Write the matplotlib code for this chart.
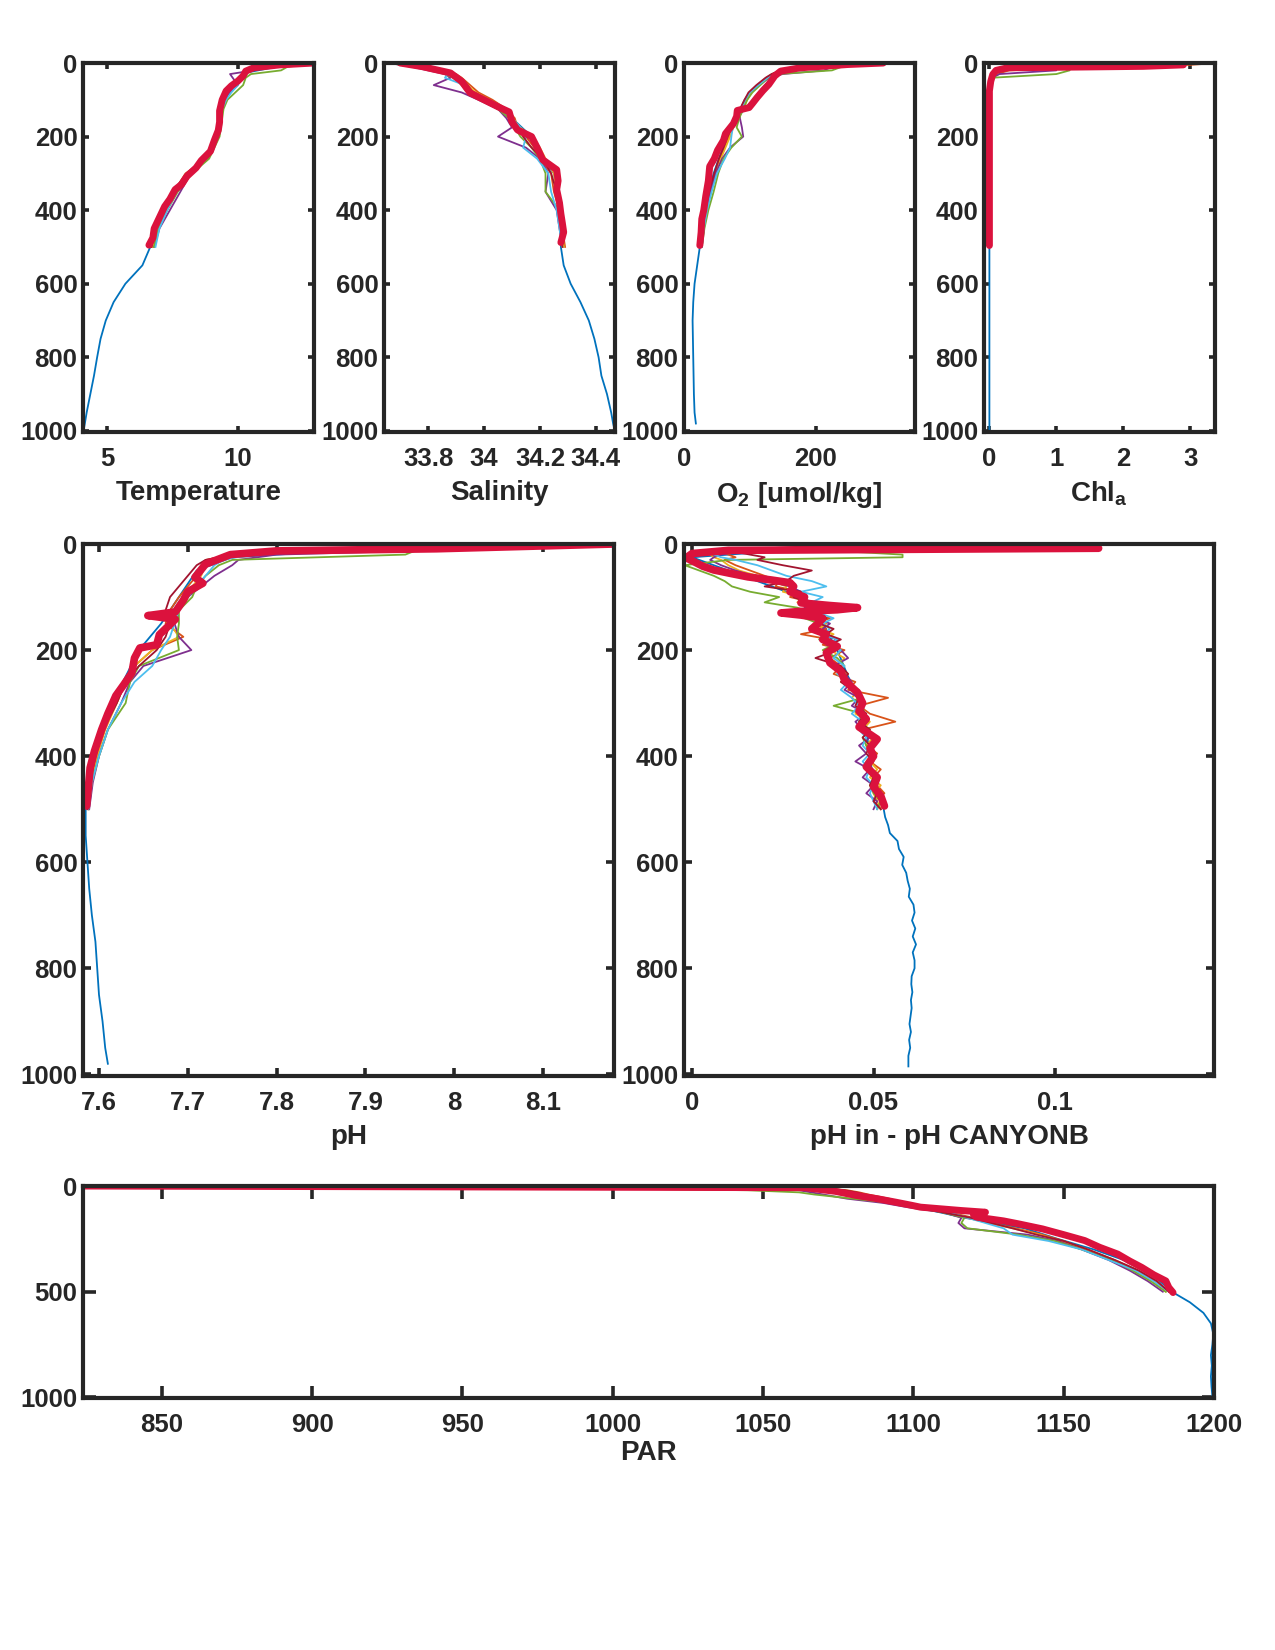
import matplotlib.pyplot as plt
import numpy as np

plt.rcParams["font.family"] = ["Liberation Sans", "DejaVu Sans"]
plt.rcParams["font.weight"] = "bold"
plt.rcParams["mathtext.fontset"] = "custom"
plt.rcParams["mathtext.rm"] = "Liberation Sans:bold"
plt.rcParams["mathtext.bf"] = "Liberation Sans:bold"

# depth grids (m)
deep_z = [0, 10, 25, 50, 100, 150, 200, 250, 300, 350, 400, 450, 500, 550,
          600, 650, 700, 750, 800, 850, 900, 950, 980, 1000]
float_z = [0, 5, 10, 20, 30, 40, 60, 80, 100, 125, 150, 175, 200, 230, 260,
           300, 350, 400, 450, 500]

# ---- Temperature
temp_deep = [12.8, 11.5, 10.4, 10.0, 9.4, 9.3, 9.2, 8.9, 8.1, 7.55, 7.15, 6.85,
             6.65, 6.35, 5.7, 5.25, 4.95, 4.75, 4.62, 4.5, 4.36, 4.22, 4.15, 4.1]
temp_floats = [
    [12.7, 11.8, 10.8, 10.4, 10.2, 10.1, 9.8, 9.6, 9.45, 9.35, 9.3, 9.2, 9.15, 9.0, 8.8, 8.0, 7.55, 7.2, 6.9, 6.7],
    [12.6, 12.0, 11.0, 10.5, 10.3, 10.1, 9.85, 9.6, 9.5, 9.4, 9.3, 9.25, 9.15, 9.0, 8.75, 8.1, 7.6, 7.25, 6.95, 6.75],
    [12.8, 12.2, 11.2, 10.6, 9.7, 9.8, 10.0, 9.7, 9.5, 9.4, 9.35, 9.25, 9.2, 9.05, 8.85, 8.2, 7.8, 7.4, 7.0, 6.8],
    [12.9, 12.5, 11.9, 11.65, 10.5, 10.3, 10.2, 9.9, 9.6, 9.45, 9.4, 9.35, 9.3, 9.1, 8.9, 8.25, 7.7, 7.3, 6.95, 6.8],
    [12.8, 12.0, 11.0, 10.5, 10.3, 10.15, 10.0, 9.75, 9.55, 9.4, 9.3, 9.25, 9.2, 9.0, 8.8, 8.15, 7.65, 7.3, 7.0, 6.85],
    [12.7, 11.5, 10.7, 10.4, 10.2, 10.05, 9.8, 9.6, 9.45, 9.35, 9.3, 9.2, 9.15, 8.95, 8.7, 8.05, 7.5, 7.15, 6.85, 6.7],
]
temp_red_z = [0, 5, 13, 22, 35, 49, 62, 76, 100, 130, 160, 183, 210, 240, 265,
              285, 308, 330, 344, 370, 390, 420, 450, 475, 495]
temp_red = [12.9, 11.6, 10.6, 10.3, 10.2, 10.0, 9.75, 9.55, 9.4, 9.3, 9.3, 9.25,
            9.1, 8.95, 8.6, 8.4, 8.05, 7.85, 7.6, 7.4, 7.2, 7.0, 6.8, 6.75, 6.6]

# ---- Salinity
sal_deep = [33.68, 33.78, 33.86, 33.91, 34.0, 34.10, 34.17, 34.2, 34.25, 34.26,
            34.27, 34.275, 34.275, 34.285, 34.31, 34.345, 34.375, 34.395, 34.41,
            34.42, 34.44, 34.455, 34.462, 34.468]
sal_floats = [
    [33.70, 33.75, 33.80, 33.86, 33.90, 33.92, 33.95, 33.98, 34.03, 34.08, 34.11, 34.12, 34.15, 34.18, 34.20, 34.24, 34.25, 34.27, 34.28, 34.29],
    [33.69, 33.74, 33.79, 33.85, 33.89, 33.91, 33.94, 33.97, 34.02, 34.08, 34.10, 34.13, 34.17, 34.2, 34.22, 34.25, 34.26, 34.27, 34.28, 34.285],
    [33.66, 33.70, 33.74, 33.80, 33.86, 33.88, 33.82, 33.92, 33.98, 34.05, 34.08, 34.10, 34.05, 34.15, 34.2, 34.23, 34.22, 34.26, 34.27, 34.28],
    [33.67, 33.70, 33.75, 33.82, 33.86, 33.89, 33.92, 33.94, 33.99, 34.05, 34.09, 34.11, 34.13, 34.17, 34.20, 34.22, 34.22, 34.27, 34.28, 34.28],
    [33.69, 33.73, 33.77, 33.83, 33.87, 33.86, 33.93, 33.96, 34.01, 34.06, 34.10, 34.13, 34.15, 34.14, 34.19, 34.23, 34.24, 34.26, 34.27, 34.28],
    [33.70, 33.75, 33.79, 33.84, 33.88, 33.90, 33.94, 33.96, 34.01, 34.07, 34.10, 34.12, 34.14, 34.17, 34.21, 34.24, 34.26, 34.27, 34.28, 34.28],
]
sal_red_z = [0, 10, 27, 50, 81, 100, 119, 133, 160, 182, 200, 230, 263, 290,
             320, 344, 380, 410, 434, 460, 488]
sal_red = [33.70, 33.78, 33.88, 33.92, 33.95, 34.0, 34.05, 34.09, 34.10, 34.12,
           34.17, 34.19, 34.21, 34.26, 34.265, 34.26, 34.27, 34.275, 34.28,
           34.285, 34.275]

# ---- Oxygen
o2_deep = [300, 200, 145, 128, 105, 80, 66, 55, 45, 38, 32, 28, 24, 20, 16, 14,
           13, 13.5, 14, 14.5, 15, 16, 18, np.nan]
o2_floats = [
    [300, 260, 200, 150, 135, 125, 112, 100, 95, 88, 80, 72, 68, 62, 55, 48, 40, 33, 29, 26],
    [295, 255, 190, 148, 134, 126, 114, 103, 96, 90, 82, 75, 70, 63, 56, 49, 41, 34, 30, 27],
    [290, 265, 225, 213, 150, 129, 115, 100, 92, 86, 85, 88, 90, 70, 58, 48, 40, 35, 30, 27],
    [305, 270, 240, 225, 141, 128, 116, 104, 96, 90, 84, 80, 88, 72, 60, 52, 45, 37, 31, 27],
    [300, 250, 185, 150, 136, 127, 113, 100, 93, 87, 80, 74, 72, 70, 62, 50, 42, 35, 30, 27],
    [298, 245, 180, 146, 133, 124, 110, 98, 92, 85, 78, 72, 66, 60, 53, 46, 38, 32, 28, 25],
]
o2_red_z = [0, 4, 13, 22, 35, 58, 75, 94, 110, 121, 129, 145, 165, 192, 210,
            237, 260, 281, 320, 362, 400, 424, 460, 496]
o2_red = [303, 249, 177, 147, 138, 129, 120, 111, 104, 99, 81, 80, 75, 63, 60,
          51, 46, 39, 37, 33, 30, 27, 26, 24]

# ---- Chlorophyll a
chl_deep = [0.5, 0.3, 0.1, 0.03, 0.01, 0.01, 0.0, 0.0, 0.0, 0.0, 0.0, 0.0, 0.0,
            0.0, 0.0, 0.0, 0.0, 0.0, 0.0, 0.0, 0.0, 0.0, 0.0, 0.0]
chl_floats = [
    [3.4, 3.0, 1.5, 0.3, 0.1, 0.05, 0.02, 0.01, 0.0, 0.0, 0.0, 0.0, 0.0, 0.0, 0.0, 0.0, 0.0, 0.0, 0.0, 0.0],
    [2.5, 2.0, 0.8, 0.2, 0.08, 0.04, 0.02, 0.01, 0.0, 0.0, 0.0, 0.0, 0.0, 0.0, 0.0, 0.0, 0.0, 0.0, 0.0, 0.0],
    [1.5, 1.2, 0.9, 1.0, 0.15, 0.05, 0.02, 0.01, 0.0, 0.0, 0.0, 0.0, 0.0, 0.0, 0.0, 0.0, 0.0, 0.0, 0.0, 0.0],
    [0.8, 0.9, 1.0, 1.2, 1.0, 0.04, 0.02, 0.01, 0.0, 0.0, 0.0, 0.0, 0.0, 0.0, 0.0, 0.0, 0.0, 0.0, 0.0, 0.0],
    [2.0, 1.5, 0.6, 0.15, 0.06, 0.03, 0.01, 0.01, 0.0, 0.0, 0.0, 0.0, 0.0, 0.0, 0.0, 0.0, 0.0, 0.0, 0.0, 0.0],
    [1.8, 1.4, 0.5, 0.12, 0.05, 0.03, 0.01, 0.01, 0.0, 0.0, 0.0, 0.0, 0.0, 0.0, 0.0, 0.0, 0.0, 0.0, 0.0, 0.0],
]
chl_red_z = [0, 5, 9, 13, 20, 31, 50, 76, 100, 200, 300, 400, 496]
chl_red = [2.9, 2.9, 2.3, 0.27, 0.1, 0.05, 0.02, 0.0, 0.0, 0.0, 0.0, 0.0, 0.0]

# ---- pH
ph_deep = [8.15, 7.9, 7.75, 7.71, 7.69, 7.67, 7.645, 7.63, 7.615, 7.605, 7.597,
           7.59, 7.585, 7.585, 7.587, 7.589, 7.592, 7.596, 7.598, 7.600, 7.604,
           7.607, 7.610, np.nan]
ph_floats = [
    [8.15, 8.0, 7.85, 7.75, 7.72, 7.715, 7.71, 7.70, 7.69, 7.68, 7.675, 7.695, 7.66, 7.64, 7.63, 7.62, 7.605, 7.597, 7.59, 7.588],
    [8.12, 7.95, 7.82, 7.76, 7.73, 7.72, 7.715, 7.705, 7.695, 7.69, 7.68, 7.69, 7.66, 7.64, 7.63, 7.62, 7.607, 7.598, 7.592, 7.588],
    [8.17, 8.05, 8.02, 7.80, 7.757, 7.75, 7.73, 7.715, 7.70, 7.69, 7.685, 7.69, 7.704, 7.65, 7.635, 7.625, 7.61, 7.60, 7.593, 7.589],
    [8.16, 8.0, 7.96, 7.945, 7.75, 7.735, 7.72, 7.71, 7.705, 7.69, 7.69, 7.688, 7.69, 7.645, 7.635, 7.63, 7.61, 7.60, 7.592, 7.588],
    [8.14, 7.97, 7.84, 7.77, 7.74, 7.73, 7.72, 7.71, 7.70, 7.69, 7.685, 7.68, 7.67, 7.66, 7.64, 7.625, 7.61, 7.60, 7.592, 7.588],
    [8.13, 7.96, 7.82, 7.75, 7.72, 7.71, 7.70, 7.69, 7.68, 7.675, 7.68, 7.675, 7.665, 7.645, 7.63, 7.62, 7.605, 7.596, 7.59, 7.587],
]
ph_red_z = [0, 9, 13, 20, 38, 63, 74, 90, 106, 128, 135, 142, 171, 190, 196,
            215, 243, 265, 286, 320, 350, 390, 422, 460, 494]
ph_red = [8.18, 7.98, 7.80, 7.748, 7.72, 7.708, 7.717, 7.70, 7.695, 7.686, 7.655,
          7.686, 7.668, 7.665, 7.646, 7.64, 7.637, 7.628, 7.619, 7.61, 7.603,
          7.595, 7.59, 7.588, 7.586]

# ---- pH in - pH CANYONB (noisier, so finer depth grids)
dph_deep_z = [0, 10, 25, 50, 100, 150, 200, 250, 300, 350, 400, 450, 500, 515,
              530, 545, 560, 575, 590, 605, 620, 635, 650, 665, 680, 695, 710,
              725, 740, 755, 770, 785, 800, 815, 830, 845, 860, 875, 890, 905,
              920, 935, 950, 965, 985]
dph_deep = [0.12, 0.03, 0.0, 0.01, 0.03, 0.036, 0.04, 0.043, 0.047, 0.048, 0.049,
            0.050, 0.0528, 0.0532, 0.0540, 0.0545, 0.0566, 0.0570, 0.0583, 0.0579,
            0.0590, 0.0594, 0.0600, 0.0597, 0.0610, 0.0613, 0.0606, 0.0615, 0.0608,
            0.0617, 0.0608, 0.0613, 0.0613, 0.0605, 0.0604, 0.0607, 0.0603, 0.0605,
            0.0602, 0.0599, 0.0603, 0.0598, 0.0601, 0.0596, 0.0596]
dph_float_z = [0, 5, 10, 15, 20, 25, 30, 40, 50, 60, 70, 80, 90, 100, 110, 120,
               130, 140, 150, 160, 170, 180, 190, 200, 215, 230, 245, 260, 275,
               290, 305, 320, 335, 350, 365, 380, 395, 410, 425, 440, 455, 470,
               485, 500]
dph_floats = [
    [0.14, 0.05, 0.012, 0.008, 0.010, 0.012, 0.009, 0.012, 0.016, 0.020,
     0.024, 0.023, 0.030, 0.027, 0.033, 0.035, 0.032, 0.038, 0.034, 0.037,
     0.030, 0.038, 0.036, 0.042, 0.038, 0.041, 0.039, 0.045, 0.043, 0.054,
     0.046, 0.049, 0.056, 0.047, 0.050, 0.048, 0.051, 0.049, 0.052, 0.050,
     0.051, 0.053, 0.050, 0.052],
    [0.09, 0.04, 0.010, 0.006, 0.005, 0.006, 0.008, 0.010, 0.013, 0.018,
     0.022, 0.026, 0.025, 0.031, 0.029, 0.034, 0.036, 0.033, 0.037, 0.035,
     0.039, 0.036, 0.040, 0.038, 0.042, 0.040, 0.043, 0.041, 0.046, 0.044,
     0.047, 0.045, 0.049, 0.047, 0.050, 0.048, 0.050, 0.049, 0.051, 0.049,
     0.052, 0.050, 0.051, 0.052],
    [0.06, 0.035, 0.020, 0.012, 0.008, 0.006, 0.005, 0.008, 0.012, 0.017,
     0.021, 0.027, 0.030, 0.028, 0.034, 0.031, 0.036, 0.034, 0.038, 0.036,
     0.035, 0.040, 0.037, 0.041, 0.043, 0.039, 0.042, 0.044, 0.042, 0.046,
     0.044, 0.048, 0.045, 0.047, 0.049, 0.046, 0.048, 0.045, 0.049, 0.047,
     0.050, 0.048, 0.051, 0.050],
    [0.05, 0.04, 0.03, 0.045, 0.058, 0.058, 0.01, -0.002, 0.002, 0.006,
     0.009, 0.011, 0.016, 0.024, 0.020, 0.029, 0.033, 0.031, 0.035, 0.033,
     0.037, 0.035, 0.039, 0.036, 0.040, 0.042, 0.040, 0.043, 0.045, 0.047,
     0.039, 0.047, 0.046, 0.049, 0.047, 0.048, 0.050, 0.048, 0.049, 0.051,
     0.049, 0.050, 0.052, 0.051],
    [0.10, 0.05, 0.015, 0.008, 0.006, 0.008, 0.012, 0.018, 0.022, 0.026,
     0.033, 0.037, 0.030, 0.036, 0.033, 0.038, 0.035, 0.039, 0.036, 0.038,
     0.036, 0.040, 0.038, 0.041, 0.039, 0.042, 0.040, 0.043, 0.041, 0.044,
     0.046, 0.044, 0.047, 0.046, 0.048, 0.047, 0.049, 0.047, 0.049, 0.048,
     0.050, 0.049, 0.050, 0.051],
    [0.09, 0.03, 0.015, 0.012, 0.016, 0.020, 0.018, 0.025, 0.033, 0.028,
     0.026, 0.020, 0.030, 0.028, 0.032, 0.036, 0.034, 0.037, 0.035, 0.039,
     0.037, 0.041, 0.038, 0.040, 0.034, 0.041, 0.043, 0.041, 0.044, 0.046,
     0.045, 0.048, 0.046, 0.049, 0.047, 0.049, 0.048, 0.050, 0.048, 0.050,
     0.049, 0.051, 0.050, 0.052],
]
dph_red_z = [0, 4, 8, 10, 12, 18, 26, 35, 42, 49, 56, 62, 68, 73, 80, 90, 100,
             111, 116, 120, 124, 127, 130, 134, 140, 148, 160, 170, 180, 193,
             205, 224, 240, 256, 270, 280, 300, 315, 330, 345, 368, 385, 400,
             420, 440, 458, 475, 494]
dph_red = [0.068, 0.11, 0.112, 0.06, 0.01, 0.0, -0.0016, 0.001, 0.003, 0.006,
           0.011, 0.0154, 0.022, 0.027, 0.028, 0.027, 0.031, 0.030, 0.038, 0.0456,
           0.04, 0.03, 0.0245, 0.03, 0.036, 0.035, 0.033, 0.037, 0.036, 0.040,
           0.037, 0.038, 0.041, 0.042, 0.044, 0.0456, 0.047, 0.046, 0.048, 0.046,
           0.051, 0.049, 0.050, 0.048, 0.051, 0.050, 0.052, 0.053]

# ---- PAR
par_deep = [824, 1066, 1075, 1082, 1101, 1117, 1137, 1148, 1160, 1170, 1177, 1182,
            1186, 1192, 1196.5, 1199, 1199.8, 1199.5, 1199, 1199.3, 1199, 1199.2,
            1199.4, 1199.5]
par_floats = [
    [824, 1062, 1070, 1078, 1082, 1085, 1092, 1097, 1103, 1112, 1120, 1126, 1134, 1143, 1150, 1158, 1167, 1175, 1181, 1185],
    [825, 1060, 1068, 1076, 1080, 1084, 1090, 1096, 1102, 1110, 1118, 1125, 1133, 1142, 1149, 1157, 1166, 1174, 1180, 1184],
    [824, 1030, 1055, 1062, 1066, 1070, 1078, 1090, 1098, 1110, 1116, 1115, 1117, 1138, 1148, 1156, 1165, 1172, 1178, 1183],
    [824, 930, 990, 1045, 1062, 1067, 1080, 1093, 1100, 1110, 1117, 1116, 1118, 1135, 1147, 1156, 1166, 1173, 1179, 1184],
    [824, 1060, 1067, 1074, 1079, 1083, 1090, 1097, 1104, 1112, 1118, 1124, 1130, 1133, 1145, 1156, 1165, 1174, 1180, 1185],
    [824, 1061, 1069, 1077, 1081, 1084, 1091, 1096, 1101, 1110, 1119, 1126, 1133, 1141, 1150, 1158, 1167, 1175, 1181, 1185],
]
par_red_z = [0, 8, 25, 44, 60, 76, 90, 100, 116, 124, 135, 147, 165, 179, 203,
             230, 258, 290, 322, 355, 385, 420, 449, 480, 504]
par_red = [824, 1064, 1074, 1080.7, 1088, 1094, 1099, 1102.4, 1116, 1124, 1120,
           1121, 1130, 1135, 1143, 1150, 1157, 1162, 1168, 1172, 1176, 1180, 1184,
           1185, 1186.4]

# MATLAB default line colours, deep profile first, then the floats
float_colors = [(0.850, 0.325, 0.098), (0.929, 0.694, 0.125), (0.494, 0.184, 0.556),
                (0.466, 0.674, 0.188), (0.301, 0.745, 0.933), (0.635, 0.078, 0.184)]
deep_color = (0.0, 0.447, 0.741)
red_color = (0.86, 0.07, 0.24)
ink = "#262626"

fig = plt.figure(figsize=(12.75, 16.5), dpi=100)


def profile_axes(rect, deep, floats, red_z, red, xlim, xticks, xticklabels,
                 yticks, xlabel, ticklen, labelpad,
                 dz=deep_z, fz=float_z, red_lw=5.0):
    ax = fig.add_axes(rect)
    ax.plot(deep, dz, color=deep_color, lw=1.3)
    for vals, col in zip(floats, float_colors):
        ax.plot(vals, fz, color=col, lw=1.3)
    ax.plot(red, red_z, color=red_color, lw=red_lw, solid_joinstyle="round",
            solid_capstyle="round")
    ax.set_xlim(xlim)
    ax.set_ylim(1003, 0)
    ax.set_xticks(xticks)
    ax.set_xticklabels(xticklabels)
    ax.set_yticks(yticks)
    ax.set_yticklabels([str(t) for t in yticks])
    ax.tick_params(direction="in", top=True, right=True, length=ticklen,
                   width=2.6, colors=ink, labelsize=18.5, pad=4)
    ax.tick_params(axis="x", pad=11)
    for sp in ax.spines.values():
        sp.set_linewidth(3.0)
        sp.set_color(ink)
    ax.set_xlabel(xlabel, fontsize=20, fontweight="bold", color=ink,
                  labelpad=labelpad)
    return ax


top_b, top_h, top_w = 0.7382, 0.2236, 0.181
depth_ticks = [0, 200, 400, 600, 800, 1000]

profile_axes([0.0651, top_b, top_w, top_h], temp_deep, temp_floats, temp_red_z,
             temp_red, (4.08, 12.9), [5, 10], ["5", "10"], depth_ticks,
             "Temperature", 4, 6)
profile_axes([0.3012, top_b, top_w, top_h], sal_deep, sal_floats, sal_red_z,
             sal_red, (33.642, 34.468), [33.8, 34.0, 34.2, 34.4],
             ["33.8", "34", "34.2", "34.4"], depth_ticks, "Salinity", 4, 6)
profile_axes([0.5365, top_b, top_w, top_h], o2_deep, o2_floats, o2_red_z,
             o2_red, (0, 351), [0, 200], ["0", "200"], depth_ticks,
             "O$_\\mathbf{2}$ [umol/kg]", 4, 6)
profile_axes([0.7718, top_b, top_w, top_h], chl_deep, chl_floats, chl_red_z,
             chl_red, (-0.08, 3.37), [0, 1, 2, 3], ["0", "1", "2", "3"],
             depth_ticks, "Chl$_\\mathbf{a}$", 4, 6)

mid_b, mid_h = 0.3479, 0.3224
profile_axes([0.0651, mid_b, 0.4165, mid_h], ph_deep, ph_floats, ph_red_z,
             ph_red, (7.582, 8.180), [7.6, 7.7, 7.8, 7.9, 8.0, 8.1],
             ["7.6", "7.7", "7.8", "7.9", "8", "8.1"], depth_ticks, "pH", 6, 6,
             red_lw=5.5)
profile_axes([0.5365, mid_b, 0.4157, mid_h], dph_deep, dph_floats, dph_red_z,
             dph_red, (-0.0022, 0.1438), [0, 0.05, 0.1], ["0", "0.05", "0.1"],
             depth_ticks, "pH in - pH CANYONB", 6, 6,
             dz=dph_deep_z, fz=dph_float_z, red_lw=5.5)

profile_axes([0.0651, 0.1527, 0.887, 0.1285], par_deep, par_floats, par_red_z,
             par_red, (823.8, 1200), [850, 900, 950, 1000, 1050, 1100, 1150, 1200],
             ["850", "900", "950", "1000", "1050", "1100", "1150", "1200"],
             [0, 500, 1000], "PAR", 9, 2)

fig.savefig("out.png", dpi=100, facecolor="white")
